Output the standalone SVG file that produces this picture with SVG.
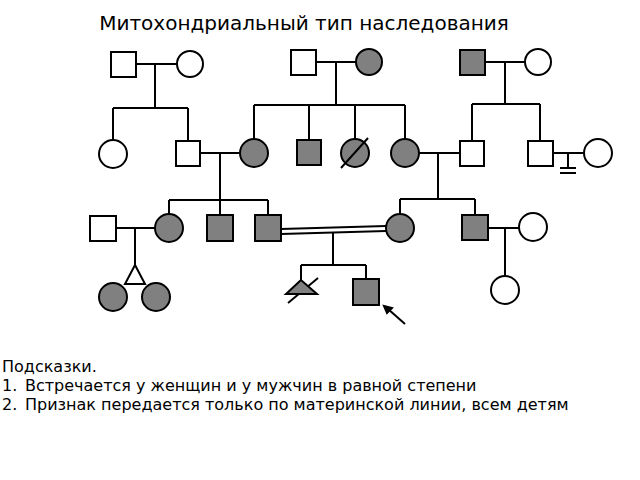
<svg xmlns="http://www.w3.org/2000/svg" width="640" height="480" viewBox="0 0 640 480">
<style>
.l{stroke:#000;stroke-width:2;fill:none}
.w{fill:#fff;stroke:#000;stroke-width:2}
.g{fill:#808080;stroke:#000;stroke-width:2}
text{font-family:"DejaVu Sans","Noto Sans",sans-serif;fill:#000}
.h{font-size:16px}
</style>
<rect width="640" height="480" fill="#fff"/>
<text x="304" y="30" font-size="20" text-anchor="middle">Митохондриальный тип наследования</text>
<g id="connectors" class="l">
<path d="M136 64H177M155 64V108M113 108H188M113 108V141M188 108V141"/>
<path d="M316 62H356M336 62V105M254 105H405M254 105V140M309 105V140M355 105V140M405 105V140"/>
<path d="M485 62H525M505 62V104M472 104H540M472 104V141M540 104V141"/>
<path d="M553 153H585M568 153V168M560 168H576M560 173H576"/>
<path d="M200 153H241M220 153V200M169 200H268M169 200V214M220 200V215M268 200V215"/>
<path d="M418 153H460M438 153V199M400 199H475M400 199V214M475 199V215"/>
<path d="M116 228H155M135 228V265"/>
<path d="M281 229L386 226M281 234L386 231"/>
<path d="M333 232V265M301 265H366M301 265V280M366 265V279"/>
<path d="M488 228H519M505 228V276"/>
<path d="M288 303L318 278"/>
<path d="M405 324L388 309"/>
<path d="M384 306L392 308L387 313Z" fill="#000"/>
</g>
<g id="n1"><rect class="w" x="111" y="52" width="25" height="25"/></g>
<g id="n2"><circle class="w" cx="190" cy="64" r="13"/></g>
<g id="n3"><rect class="w" x="291" y="50" width="25" height="25"/></g>
<g id="n4"><circle class="g" cx="369" cy="62" r="13"/></g>
<g id="n5"><rect class="g" x="460" y="50" width="25" height="25"/></g>
<g id="n6"><circle class="w" cx="538" cy="62" r="13"/></g>
<g id="n7"><circle class="w" cx="113" cy="154" r="14"/></g>
<g id="n8"><rect class="w" x="176" y="141" width="24" height="25"/></g>
<g id="n9"><circle class="g" cx="254" cy="153" r="14"/></g>
<g id="n10"><rect class="g" x="297" y="140" width="24" height="25"/></g>
<g id="n11"><circle class="g" cx="355" cy="153" r="14"/><path class="l" d="M341 168L368 138"/></g>
<g id="n12"><circle class="g" cx="405" cy="153" r="14"/></g>
<g id="n13"><rect class="w" x="460" y="141" width="24" height="25"/></g>
<g id="n14"><rect class="w" x="528" y="141" width="25" height="25"/></g>
<g id="n15"><circle class="w" cx="598" cy="153" r="14"/></g>
<g id="n16"><rect class="w" x="90" y="216" width="26" height="25"/></g>
<g id="n17"><circle class="g" cx="169" cy="228" r="14"/></g>
<g id="n18"><rect class="g" x="207" y="215" width="26" height="26"/></g>
<g id="n19"><rect class="g" x="255" y="215" width="26" height="26"/></g>
<g id="n20"><circle class="g" cx="400" cy="228" r="14"/></g>
<g id="n21"><rect class="g" x="462" y="215" width="26" height="25"/></g>
<g id="n22"><circle class="w" cx="533" cy="227" r="14"/></g>
<g id="n23"><path class="l" d="M135 265L125 284H145Z"/></g>
<g id="n24"><circle class="g" cx="113" cy="297" r="14"/></g>
<g id="n25"><circle class="g" cx="156" cy="297" r="14"/></g>
<g id="n26"><path class="g" d="M301 280L286 294H317Z"/></g>
<g id="n27"><rect class="g" x="353" y="279" width="26" height="26"/></g>
<g id="n28"><circle class="w" cx="505" cy="290" r="14"/></g>
<text class="h" x="2" y="372">Подсказки.</text>
<text class="h" x="2" y="391">1.</text>
<text class="h" x="25" y="391">Встречается у женщин и у мужчин в равной степени</text>
<text class="h" x="2" y="410">2.</text>
<text class="h" x="25" y="410">Признак передается только по материнской линии, всем детям</text>
</svg>
